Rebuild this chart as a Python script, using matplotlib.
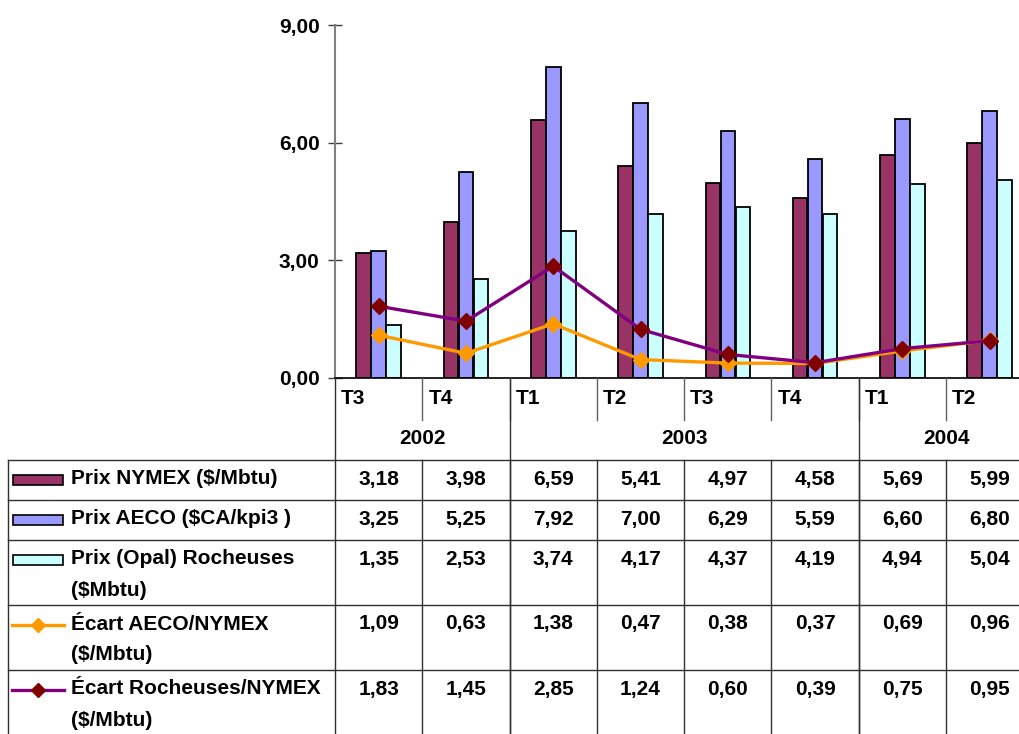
import numpy as np
import matplotlib
matplotlib.use("Agg")
import matplotlib.pyplot as plt
from matplotlib.patches import Rectangle

plt.rcParams['font.family'] = ['Liberation Sans', 'DejaVu Sans']
plt.rcParams['font.weight'] = 'bold'

# data
quarters = ["T3", "T4", "T1", "T2", "T3", "T4", "T1", "T2"]
years = ["2002", "2003", "2004"]
year_spans = [(0, 2), (2, 6), (6, 8)]
nymex = [3.18, 3.98, 6.59, 5.41, 4.97, 4.58, 5.69, 5.99]
aeco = [3.25, 5.25, 7.92, 7.00, 6.29, 5.59, 6.60, 6.80]
opal = [1.35, 2.53, 3.74, 4.17, 4.37, 4.19, 4.94, 5.04]
ecart_aeco = [1.09, 0.63, 1.38, 0.47, 0.38, 0.37, 0.69, 0.96]
ecart_roch = [1.83, 1.45, 2.85, 1.24, 0.60, 0.39, 0.75, 0.95]

series_names = [["Prix NYMEX ($/Mbtu)"], ["Prix AECO ($CA/kpi3 )"],
                ["Prix (Opal) Rocheuses", "($Mbtu)"], ["Écart AECO/NYMEX", "($/Mbtu)"],
                ["Écart Rocheuses/NYMEX", "($/Mbtu)"]]
series_vals = [nymex, aeco, opal, ecart_aeco, ecart_roch]

c_nymex = "#993366"
c_aeco = "#9999FF"
c_opal = "#CCFFFF"
c_line1 = "#FF9900"
c_line2 = "#800080"
c_mark2 = "#800000"

FS = 15

W, H = 1019, 734
fig = plt.figure(figsize=(W / 100, H / 100), dpi=100)

# plot area in pixels
x0, step = 335, 87.3
ytop, ybot = 25, 378
ax = fig.add_axes([x0 / W, (H - ybot) / H, 8 * step / W, (ybot - ytop) / H])

x = np.arange(len(quarters)) + 0.5
bw = 0.168
ax.bar(x - 0.172, nymex, bw, color=c_nymex, edgecolor="black", linewidth=1.3, zorder=2)
ax.bar(x, aeco, bw, color=c_aeco, edgecolor="black", linewidth=1.3, zorder=2)
ax.bar(x + 0.172, opal, bw, color=c_opal, edgecolor="black", linewidth=1.3, zorder=2)
ax.plot(x, ecart_aeco, color=c_line1, lw=2.4, marker="D", ms=8,
        mfc=c_line1, mec=c_line1, zorder=3)
ax.plot(x, ecart_roch, color=c_line2, lw=2.4, marker="D", ms=8,
        mfc=c_mark2, mec=c_mark2, zorder=4)

ax.set_xlim(0, 8)
ax.set_ylim(0, 9)
ax.set_yticks([0, 3, 6, 9])
ax.set_yticklabels(["0,00", "3,00", "6,00", "9,00"], fontsize=FS, fontweight="bold")
ax.tick_params(axis="y", direction="inout", length=10, width=1, color="#404040", pad=6)
ax.set_xticks([])
for s in ["top", "right"]:
    ax.spines[s].set_visible(False)
ax.spines["left"].set_color("#808080")
ax.spines["left"].set_linewidth(1.5)
ax.spines["bottom"].set_color("black")
ax.spines["bottom"].set_linewidth(1.2)
ax.patch.set_alpha(0)

# data table overlay in pixel coordinates
tb = fig.add_axes([0, 0, 1, 1])
tb.set_xlim(0, W)
tb.set_ylim(H, 0)
tb.axis("off")
tb.patch.set_alpha(0)

lc = "#303030"
lw = 1.0
bounds = [x0 + i * step for i in range(len(quarters) + 1)]
row_edges = [460, 500, 540, 605, 670, 740]

# category row
for i, q in enumerate(quarters):
    tb.text(bounds[i] + 6, 398, q, fontsize=FS, fontweight="bold", va="center", ha="left")
    if i > 0:
        tb.plot([bounds[i], bounds[i]], [ybot, 420], color="#606060", lw=lw)
# year row
for yr, (a, b) in zip(years, year_spans):
    tb.text((bounds[a] + bounds[b]) / 2, 438, yr, fontsize=FS, fontweight="bold",
            va="center", ha="center")
    tb.plot([bounds[a], bounds[a]], [ybot, H], color=lc, lw=lw)

# rows
for r in row_edges[:-1]:
    tb.plot([8, W], [r, r], color=lc, lw=lw)
tb.plot([8, 8], [460, H], color=lc, lw=lw)
for b in bounds[1:-1]:
    tb.plot([b, b], [460, H], color=lc, lw=lw)

for k, (name, vals) in enumerate(zip(series_names, series_vals)):
    top = row_edges[k]
    for i, v in enumerate(vals):
        tb.text(x0 + (i + 0.5) * step, top + 19, f"{v:.2f}".replace(".", ","),
                fontsize=FS, fontweight="bold", ha="center", va="center")
    for j, line in enumerate(name):
        tb.text(71, top + 19 + j * 31, line, fontsize=FS, fontweight="bold",
                ha="left", va="center")
    ky = top + 20
    if k < 3:
        col = [c_nymex, c_aeco, c_opal][k]
        tb.add_patch(Rectangle((13, ky - 5), 50, 10, facecolor=col,
                               edgecolor="black", lw=1.2))
    elif k == 3:
        tb.plot([12, 64], [ky, ky], color=c_line1, lw=2.4)
        tb.plot([38], [ky], marker="D", ms=7, color=c_line1)
    else:
        tb.plot([12, 64], [ky, ky], color=c_line2, lw=2.4)
        tb.plot([38], [ky], marker="D", ms=7, color=c_mark2)

fig.savefig("out.png", dpi=100)
